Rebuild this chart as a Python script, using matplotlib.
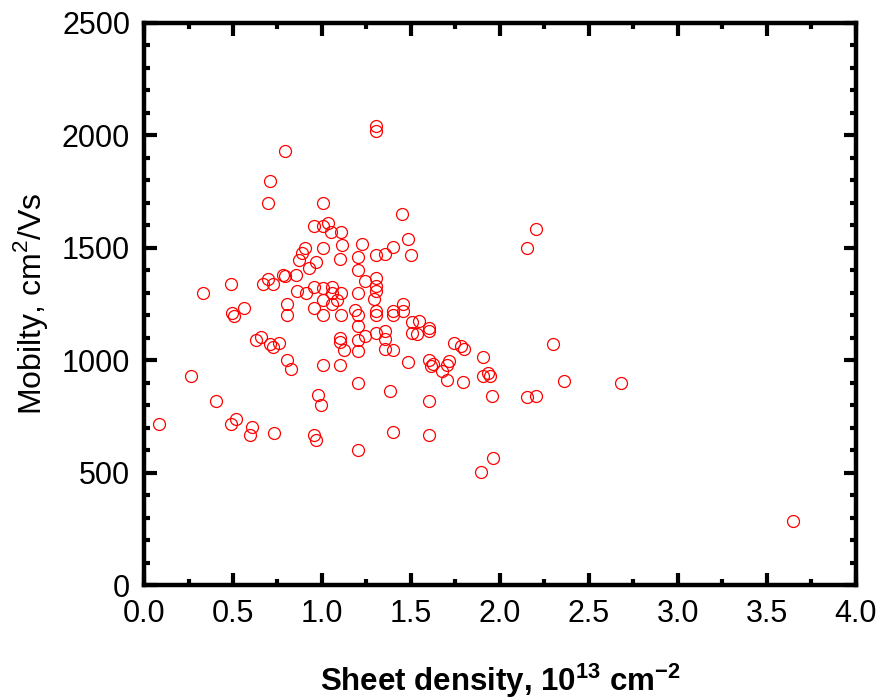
import matplotlib
matplotlib.use('Agg')
import matplotlib.pyplot as plt
from matplotlib.ticker import MultipleLocator

plt.rcParams['font.family'] = ['Liberation Sans', 'DejaVu Sans']
plt.rcParams['mathtext.fontset'] = 'custom'
plt.rcParams['mathtext.rm'] = 'Liberation Sans'
plt.rcParams['mathtext.bf'] = 'Liberation Sans:bold'

# sheet density (1e13 cm^-2) and mobility (cm^2/Vs)
density = [
    1.303, 1.303, 0.794, 0.708, 0.695, 1.004, 0.953, 1.004, 1.035, 1.052,
    1.105, 1.114, 1.226, 1.004, 0.904, 0.886, 0.871, 0.965, 0.927, 1.103,
    1.204, 1.303, 1.354, 1.502, 1.451, 2.200, 2.150, 1.483, 1.400, 1.204,
    1.242, 1.303, 1.303, 1.303, 1.292, 1.204, 0.854, 0.783, 0.794, 0.695,
    0.667, 0.726, 0.487, 0.333, 0.858, 0.908, 0.953, 1.004, 1.054, 1.054,
    1.105, 1.086, 1.004, 1.054, 0.805, 0.805, 0.953, 1.004, 1.105, 1.184,
    1.204, 1.204, 1.204, 1.303, 1.453, 1.453, 1.400, 1.400, 1.303, 1.303,
    1.504, 1.545, 1.504, 1.532, 1.601, 1.601, 1.354, 1.354, 1.242, 1.743,
    1.780, 1.799, 2.300, 1.354, 1.400, 1.204, 1.103, 1.103, 1.125, 0.563,
    0.496, 0.507, 0.656, 0.629, 0.708, 0.758, 0.723, 0.805, 0.826, 1.004,
    1.103, 1.202, 0.264, 0.404, 0.976, 0.994, 0.086, 0.517, 0.487, 0.608,
    0.596, 0.732, 0.953, 0.965, 1.202, 1.903, 1.483, 1.601, 1.611, 1.622,
    1.713, 1.704, 1.672, 1.704, 1.794, 1.903, 1.931, 1.944, 2.360, 1.382,
    1.601, 1.953, 2.150, 2.200, 1.400, 1.601, 1.962, 1.893, 2.678, 3.648,
]
mobility = [
    2040, 2020, 1929, 1798, 1699, 1699, 1599, 1599, 1613, 1573,
    1573, 1514, 1519, 1500, 1500, 1477, 1448, 1437, 1411, 1451,
    1460, 1470, 1473, 1470, 1650, 1584, 1498, 1541, 1505, 1400,
    1351, 1366, 1329, 1310, 1273, 1300, 1381, 1381, 1376, 1363,
    1340, 1340, 1340, 1300, 1310, 1300, 1325, 1322, 1325, 1302,
    1302, 1270, 1270, 1252, 1251, 1200, 1233, 1203, 1200, 1226,
    1203, 1151, 1092, 1122, 1251, 1222, 1222, 1200, 1222, 1200,
    1171, 1174, 1122, 1118, 1144, 1132, 1132, 1095, 1107, 1078,
    1065, 1050, 1072, 1050, 1045, 1040, 1100, 1080, 1048, 1233,
    1211, 1199, 1104, 1089, 1073, 1078, 1058, 1000, 964, 978,
    978, 900, 929, 818, 848, 801, 718, 740, 719, 703,
    670, 678, 670, 648, 600, 1014, 993, 1000, 974, 984,
    999, 981, 952, 915, 906, 929, 944, 929, 907, 866,
    818, 841, 836, 844, 682, 670, 565, 503, 900, 286,
]

fig = plt.figure(figsize=(8.82, 7.0), dpi=100)
ax = fig.add_axes([0.1633, 0.1636, 0.807, 0.8036])

ax.plot(density, mobility, linestyle='none', marker='o', markersize=8.6,
        markerfacecolor='none', markeredgecolor='#ff0000', markeredgewidth=0.9)

ax.set_xlim(0, 4)
ax.set_ylim(0, 2500)
ax.xaxis.set_major_locator(MultipleLocator(0.5))
ax.xaxis.set_minor_locator(MultipleLocator(0.25))
ax.yaxis.set_major_locator(MultipleLocator(500))
ax.yaxis.set_minor_locator(MultipleLocator(100))
ax.xaxis.set_major_formatter(matplotlib.ticker.FormatStrFormatter('%.1f'))

for s in ax.spines.values():
    s.set_linewidth(3.2)
ax.tick_params(which='both', direction='in', top=True, right=True, width=3.0,
               labelsize=22)
ax.tick_params(which='major', length=9, pad=10)
ax.tick_params(which='minor', length=4.5)

ax.set_xlabel(r'Sheet density, 10$^{\mathbf{13}}$ cm$^{\mathbf{-2}}$',
              fontsize=22.5, fontweight='bold')
ax.set_ylabel(r'Mobilty, cm$^{\mathrm{2}}$/Vs', fontsize=23)
ax.xaxis.set_label_coords(0.501, -0.135)
ax.yaxis.set_label_coords(-0.132, 0.5)

fig.savefig('out.png', dpi=100)
